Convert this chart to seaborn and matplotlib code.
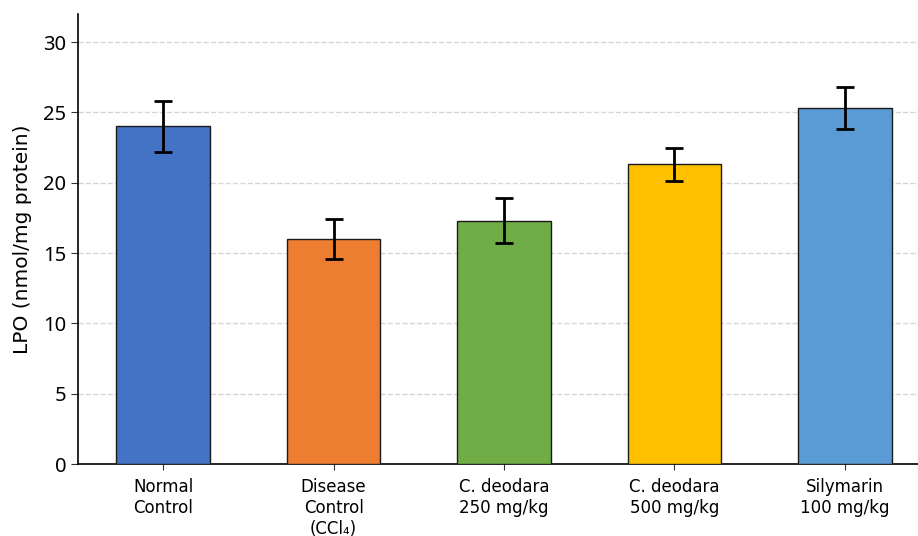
import seaborn as sns
import matplotlib.pyplot as plt

sns.set_style("ticks")
plt.rcParams['font.family'] = ['DejaVu Sans']
plt.rcParams['text.color'] = 'black'
plt.rcParams['axes.labelcolor'] = 'black'
plt.rcParams['xtick.color'] = 'black'
plt.rcParams['ytick.color'] = 'black'

groups = ["Normal\nControl", "Disease\nControl\n(CCl\u2084)", "C. deodara\n250 mg/kg",
          "C. deodara\n500 mg/kg", "Silymarin\n100 mg/kg"]
lpo = [24.0, 16.0, 17.3, 21.3, 25.3]
lpo_err = [1.8, 1.4, 1.6, 1.2, 1.5]
colors = ["#4472C4", "#ED7D31", "#70AD47", "#FFC000", "#5B9BD5"]

fig = plt.figure(figsize=(9.18, 5.36), dpi=100)
ax = fig.add_axes([0.085, 0.134, 0.915, 0.84])

sns.barplot(x=groups, y=lpo, hue=groups, palette=colors, width=0.55, saturation=1,
            edgecolor="#1a1a1a", linewidth=1.0, legend=False, ax=ax, zorder=3)
ax.errorbar(range(len(lpo)), lpo, yerr=lpo_err, fmt="none", ecolor="black",
            elinewidth=2, capsize=6.5, capthick=2, zorder=4)

ax.set_xlim(-0.5, 4.43)
ax.set_ylim(0, 32)
ax.set_yticks([0, 5, 10, 15, 20, 25, 30])
ax.yaxis.grid(True, linestyle="--", color="#cccccc", alpha=0.8, linewidth=1, zorder=0)
ax.set_axisbelow(True)
sns.despine(ax=ax)
for s in ["left", "bottom"]:
    ax.spines[s].set_color("black")
    ax.spines[s].set_linewidth(1.2)

ax.set_ylabel("LPO (nmol/mg protein)", fontsize=14.5, labelpad=8)
ax.set_xlabel("")
ax.tick_params(axis="x", labelsize=12, length=4, pad=6, color="#333333")
ax.tick_params(axis="y", length=5, color="#333333")
for lbl in ax.get_yticklabels():
    lbl.set_fontfamily(["Noto Sans", "DejaVu Sans"])
    lbl.set_fontsize(14.5)

fig.savefig("out.png", dpi=100)
